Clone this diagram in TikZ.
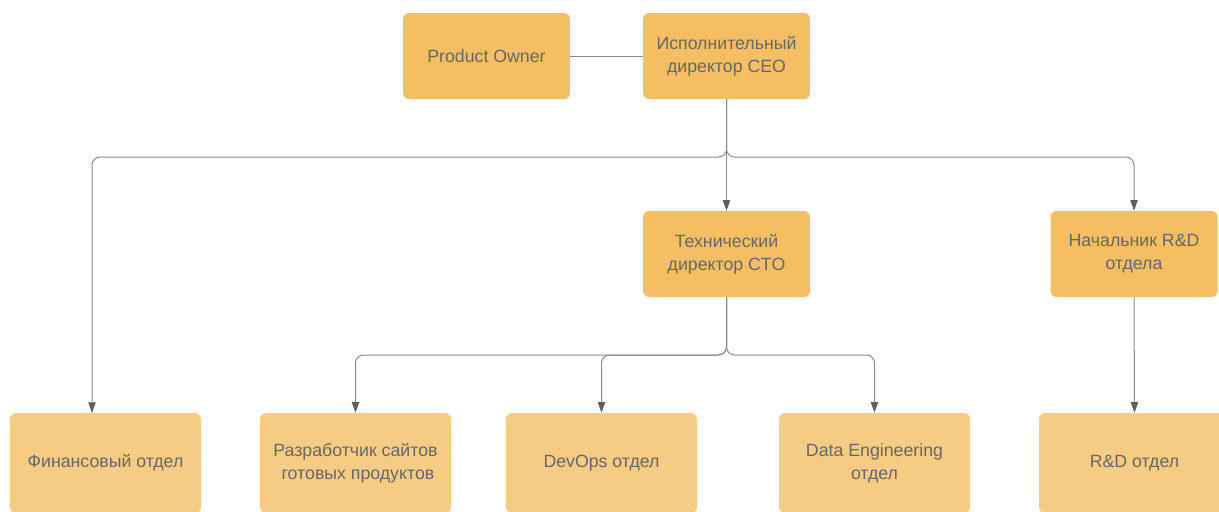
\documentclass[tikz,border=0pt]{standalone}
\usepackage{fontspec}
\setmainfont{Liberation Sans}
\usetikzlibrary{arrows.meta}
\definecolor{headfill}{HTML}{F5BE63}
\definecolor{deptfill}{HTML}{F6CC84}
\definecolor{boxtext}{HTML}{676767}
\definecolor{linkgray}{HTML}{8A8A8A}
\definecolor{tipgray}{HTML}{5E5E5E}
\begin{document}
\begin{tikzpicture}[x=0.75pt,y=-0.75pt,
  head/.style={rectangle, rounded corners=4.5pt, fill=headfill, text=boxtext,
    minimum width=125.25pt, minimum height=64.5pt, inner sep=0pt, align=center,
    font=\fontsize{13.3}{17.2}\selectfont},
  dept/.style={head, fill=deptfill, minimum width=143.25pt, minimum height=75pt},
  link/.style={draw=linkgray, line width=0.75pt},
  arr/.style={link, rounded corners=6pt, -{Triangle[width=5.5pt,length=8pt,color=tipgray]}}]
\useasboundingbox (0,0) rectangle (1219,511);
\node[head] (po) at (486.5,56) {Product Owner};
\node[head] (ceo) at (726.5,56) {Исполнительный\\директор CEO};
\node[head] (cto) at (726.5,254) {Технический\\директор CTO};
\node[head] (rdhead) at (1134,254) {Начальник R\&D\\отдела};
\node[dept] (fin) at (105.5,463) {Финансовый отдел};
\node[dept] (web) at (355.5,463) {Разработчик сайтов\\\ готовых продуктов};
\node[dept] (devops) at (601.5,463) {DevOps отдел};
\node[dept] (data) at (874.5,463) {Data Engineering\\отдел};
\node[dept] (rd) at (1134.5,463) {R\&D отдел};
\coordinate (ceobus) at (726.5,157);
\coordinate (ctobus) at (726.5,355);
\coordinate (finin) at (92,413);
% CEO and product owner
\path[link] (po) -- (ceo);
% branches under CEO
\path[arr] (ceo.south) -- (ceobus) -| (finin);
\path[arr] (ceo.south) -- (cto.north);
\path[arr] (ceo.south) -- (ceobus) -| (rdhead.north);
% branches under CTO
\path[arr] (cto.south) -- (ctobus) -| (web.north);
\path[arr] (cto.south) -- (ctobus) -| (devops.north);
\path[arr] (cto.south) -- (ctobus) -| (data.north);
\path[arr] (rdhead.south) -- (rd.north);
\end{tikzpicture}
\end{document}
